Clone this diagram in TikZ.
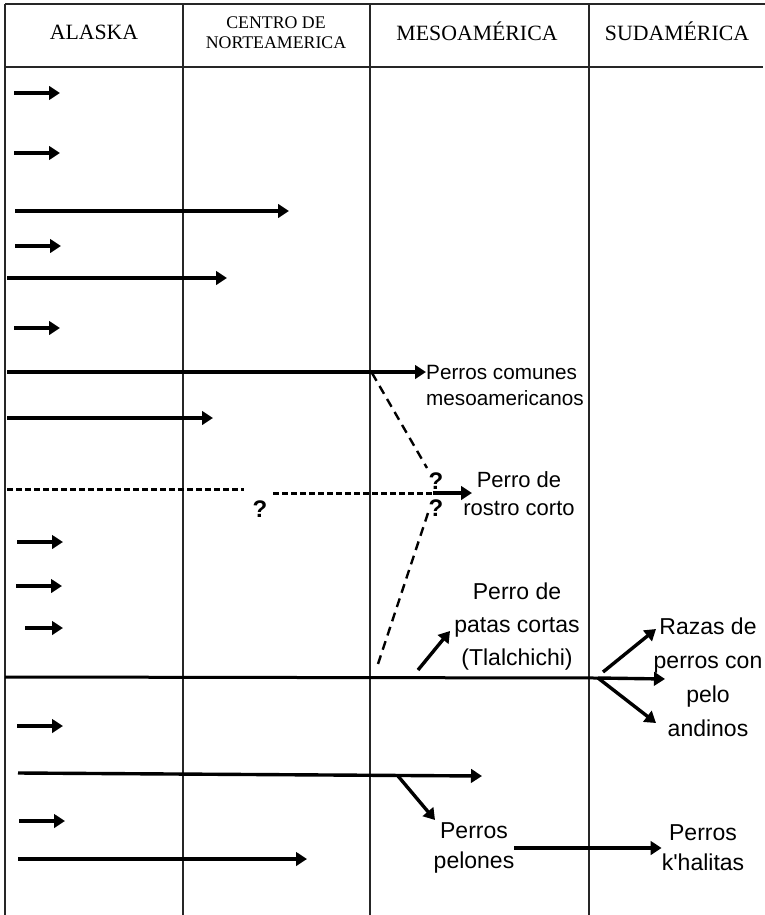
\documentclass[tikz,border=0pt]{standalone}
\usepackage{fontspec}
\setmainfont{Liberation Serif}
\setsansfont{Liberation Sans}[Ligatures=TeXOff]
\usetikzlibrary{arrows.meta,calc}

\tikzset{
  arr/.style={line width=3.4pt,-{Triangle[length=11pt,width=13.5pt]}},
  rule/.style={line width=2pt,black!85},
  dotline/.style={line width=3pt,dash pattern=on 6pt off 3pt},
  dashline/.style={line width=2.4pt,dash pattern=on 9pt off 6pt},
  head/.style={font=\fontsize{21.8}{24}\selectfont,inner sep=0pt},
  lbl/.style={font=\sffamily\fontsize{23}{33}\selectfont,align=center,inner sep=0pt},
  qm/.style={font=\sffamily\bfseries\fontsize{24}{26}\selectfont,inner sep=0pt}
}

\begin{document}
\begin{tikzpicture}[x=1pt,y=-1pt]
\useasboundingbox (0,0) rectangle (765,915);
%table
\draw[rule,line width=2.8pt] (5,4) -- (765,4);
\draw[rule,line width=2.8pt] (5,67) -- (763,67);
\foreach \x in {5,183,370,589} \draw[rule] (\x,4) -- (\x,915);
%headers
\node[head] (alaska) at (94,32) {ALASKA};
\node[head,font=\fontsize{17.8}{20}\selectfont,align=center] (centro) at (276,33) {CENTRO DE\\NORTEAMERICA};
\node[head] (meso) at (477,31) {MESOAMÉRICA};
\node[head] (suda) at (677,31) {SUDAMÉRICA};
%short arrows
\foreach \xa/\xb/\y [count=\i] in {14/60/93,14/60/153,15/61/246,14/60/328,17/63/542,16/62/586,25/63/628,17/63/726,19/65/821}{
  \coordinate (sa\i) at (\xa,\y);
  \coordinate (sb\i) at (\xb,\y);
  \draw[arr] (sa\i) -- (sb\i);
}
%long arrows
\foreach \xa/\xb/\y [count=\i] in {15/289/211,7/227/278,7/213/418,18/307/859}{
  \coordinate (la\i) at (\xa,\y);
  \coordinate (lb\i) at (\xb,\y);
  \draw[arr] (la\i) -- (lb\i);
}
%labels
\node[lbl,align=left,anchor=west,font=\sffamily\fontsize{20.7}{26}\selectfont] (comunes) at (426,385) {Perros comunes\\mesoamericanos};
\node[lbl,font=\sffamily\fontsize{22}{28}\selectfont] (rostro) at (519,494) {Perro de\\rostro corto};
\node[lbl] (patas) at (517,627) {Perro de\\patas cortas\\(Tlalchichi)};
\node[lbl,font=\sffamily\fontsize{23}{34}\selectfont] (razas) at (708,677) {Razas de\\perros con\\pelo\\andinos};
\node[lbl,font=\sffamily\fontsize{23}{30}\selectfont] (pelones) at (474,848) {Perros\\pelones};
\node[lbl,font=\sffamily\fontsize{23}{30}\selectfont] (khalitas) at (703,848) {Perros\\k'halitas};
\node[qm] (q1) at (436,481) {?};
\node[qm] (q2) at (436,508) {?};
\node[qm] (q3) at (260,509) {?};
%mesoamerican dogs
\coordinate (c1) at (7,372);
\draw[arr] (c1) -- (c1 -| comunes.west);
\coordinate (k1) at (372,373);
\coordinate (k2) at (427,468);
\draw[dashline] (k1) -- (k2);
%short face
\coordinate (d1) at (7,489);
\coordinate (d2) at (244,489);
\coordinate (d3) at (273,493);
\coordinate (d4) at (433,493);
\coordinate (d5) at (472,493);
\draw[dotline] (d1) -- (d2);
\draw[dotline] (d3) -- (d4);
\draw[arr] (d4) -- (d5);
\coordinate (k3) at (428,513);
\coordinate (k4) at (377,667);
\draw[dashline] (k3) -- (k4);
%short legs and andean
\coordinate (p1) at (418,670);
\coordinate (p2) at (450,631);
\draw[arr] (p1) -- (p2);
\coordinate (m1) at (5,677);
\coordinate (m2) at (598,678);
\coordinate (m3) at (665,679);
\coordinate (m4) at (603,672);
\coordinate (m5) at (656,629);
\coordinate (m6) at (656,723);
\draw[line width=3pt] (m1) -- (m2);
\draw[arr] (m2) -- (m3);
\draw[arr] (m4) -- (m5);
\draw[arr] (m2) -- (m6);
%hairless
\coordinate (b1) at (18,773);
\coordinate (b2) at (482,776);
\coordinate (b3) at (398,776);
\coordinate (b4) at (435,820);
\draw[arr] (b1) -- (b2);
\draw[arr] (b3) -- (b4);
\draw[arr] (pelones) -- (khalitas);
\end{tikzpicture}
\end{document}
